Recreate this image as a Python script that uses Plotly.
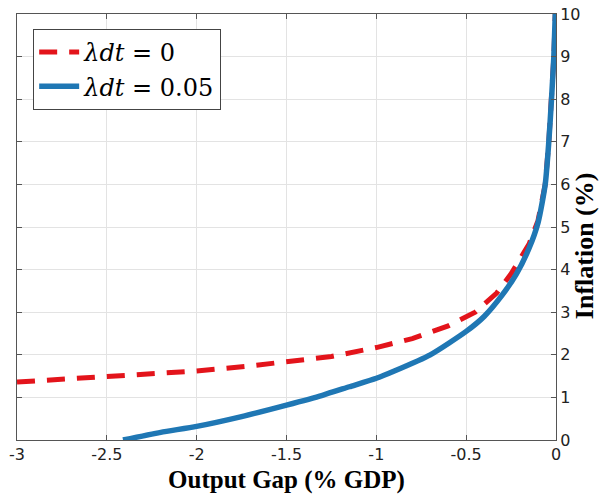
import plotly.graph_objects as go

# Data
red_x = [-3.0, -2.5, -2.0, -1.7, -1.5, -1.25, -1.0, -0.8, -0.6, -0.45, -0.33, -0.25, -0.2, -0.15, -0.1, -0.06, -0.04, -0.025, -0.012, -0.004]
red_y = [1.36, 1.48, 1.62, 1.74, 1.84, 1.96, 2.17, 2.38, 2.68, 3.0, 3.45, 3.9, 4.25, 4.6, 5.15, 6.0, 7.0, 8.0, 9.0, 10.0]

blue_x = [-2.41, -2.2, -2.0, -1.75, -1.5, -1.3, -1.15, -1.0, -0.9, -0.7, -0.5, -0.4, -0.3, -0.22, -0.15, -0.1, -0.06, -0.04, -0.025, -0.012, -0.004]
blue_y = [0.0, 0.18, 0.32, 0.55, 0.82, 1.05, 1.25, 1.45, 1.62, 2.0, 2.55, 2.9, 3.4, 3.9, 4.5, 5.1, 6.0, 7.0, 8.0, 9.0, 10.0]

x_ticks = [-3, -2.5, -2, -1.5, -1, -0.5, 0]
x_ticklabels = ["-3", "-2.5", "-2", "-1.5", "-1", "-0.5", "0"]
y_ticks = list(range(0, 11))

series_names = ["<i>λdt</i> = 0", "<i>λdt</i> = 0.05"]

fig = go.Figure()
fig.add_trace(go.Scatter(x=red_x, y=red_y, mode="lines", name=series_names[0],
                         line=dict(color="#e3141b", width=5, dash="18px,12px")))
fig.add_trace(go.Scatter(x=blue_x, y=blue_y, mode="lines", name=series_names[1],
                         line=dict(color="#1f77b4", width=5.5, shape="spline", smoothing=0.6)))

axis_common = dict(
    showgrid=True, gridcolor="#e3e3e3", gridwidth=1,
    showline=True, linecolor="#555555", linewidth=1, mirror="ticks",
    ticks="inside", ticklen=5, tickcolor="#555555",
    zeroline=False, automargin=False,
    tickfont=dict(family="DejaVu Sans", size=16, color="#222222"),
)

fig.update_layout(
    width=600, height=494,
    margin=dict(l=17, r=44, t=14, b=54, autoexpand=False),
    paper_bgcolor="white", plot_bgcolor="white",
    xaxis=dict(range=[-3, 0], tickvals=x_ticks, ticktext=x_ticklabels,
               title=dict(text="<b>Output Gap (% GDP)</b>", standoff=7,
                          font=dict(family="Liberation Serif", size=25, color="black")),
               **axis_common),
    yaxis=dict(range=[0, 10], tickvals=y_ticks, side="right", **axis_common),
    legend=dict(x=0.03, y=0.965, xanchor="left", yanchor="top",
                bgcolor="white", bordercolor="#444444", borderwidth=1,
                font=dict(family="DejaVu Serif", size=24, color="black"),
                itemwidth=40, tracegroupgap=0),
    showlegend=True,
    annotations=[dict(text="<b>Inflation (%)</b>", xref="paper", yref="paper",
                      x=1.052, y=0.455, xanchor="center", yanchor="middle",
                      textangle=-90, showarrow=False,
                      font=dict(family="Liberation Serif", size=26, color="black"))],
)

fig.write_html("out.html")
